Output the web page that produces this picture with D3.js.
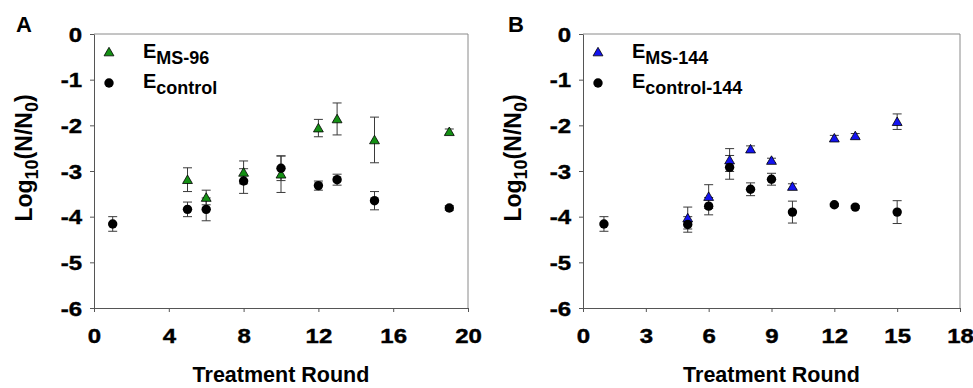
<!DOCTYPE html>
<html>
<head>
<meta charset="utf-8">
<script src="https://cdn.jsdelivr.net/npm/d3@7"></script>
<style>
  body { margin: 0; background: #fff; }
  text { font-family: "Liberation Sans", Arial, sans-serif; font-weight: bold; }
</style>
</head>
<body>
<div id="chart"></div>
<script>
// panel A data
const roundsMsA = [5, 6, 8, 10, 12, 13, 15, 19];
const msA = [-3.19, -3.58, -3.03, -3.07, -2.06, -1.86, -2.32, -2.14];
const msAErr = [0.26, 0.16, 0.25, 0.4, 0.19, 0.35, 0.5, 0.06];
const roundsCtrlA = [1, 5, 6, 8, 10, 12, 13, 15, 19];
const ctrlA = [-4.16, -3.84, -3.84, -3.22, -2.94, -3.32, -3.19, -3.65, -3.81];
const ctrlAErr = [0.16, 0.16, 0.25, 0.27, 0.27, 0.1, 0.12, 0.2, 0.05];

// panel B data
const roundsMsB = [5, 6, 7, 8, 9, 10, 12, 13, 15];
const msB = [-4.03, -3.56, -2.76, -2.52, -2.77, -3.34, -2.28, -2.23, -1.92];
const msBErr = [0.24, 0.26, 0.25, 0.07, 0.05, 0.06, 0.06, 0.05, 0.17];
const roundsCtrlB = [1, 5, 6, 7, 8, 9, 10, 12, 13, 15];
const ctrlB = [-4.16, -4.17, -3.77, -2.92, -3.4, -3.18, -3.9, -3.74, -3.79, -3.9];
const ctrlBErr = [0.16, 0.17, 0.19, 0.26, 0.14, 0.13, 0.24, 0.03, 0.03, 0.25];

const yTicks = [0, -1, -2, -3, -4, -5, -6];
const xTicksA = [0, 4, 8, 12, 16, 20];
const xTicksB = [0, 3, 6, 9, 12, 15, 18];

const svg = d3.select("#chart").append("svg")
    .attr("width", 973)
    .attr("height", 388);

function zip(xs, ys, es) {
    return xs.map((x, i) => ({ x: x, y: ys[i], e: es[i] }));
}

function drawPanel(opts) {
    const left = opts.left, top = 34, w = opts.width, h = 274;
    const g = svg.append("g").attr("transform", "translate(" + [left, top] + ")");

    const x = d3.scaleLinear().domain(opts.xDomain).range([0, w]);
    const y = d3.scaleLinear().domain([-6, 0]).range([h, 0]);

    // top and right frame lines
    g.append("line").attr("x1", 0).attr("x2", w).attr("y1", 0).attr("y2", 0)
        .attr("stroke", "#8a8a8a");
    g.append("line").attr("x1", w).attr("x2", w).attr("y1", 0).attr("y2", h)
        .attr("stroke", "#8a8a8a");

    // plain hyphen for negatives, like the original
    const fmt = d => String(d);
    const sx = 1.2; // tick labels look a bit wide in the original
    const yAxis = g.append("g")
        .call(d3.axisLeft(y).tickValues(yTicks).tickFormat(fmt)
            .tickSize(4).tickSizeOuter(0).tickPadding(8));
    const xAxis = g.append("g")
        .attr("transform", "translate(0," + h + ")")
        .call(d3.axisBottom(x).tickValues(opts.xTicks).tickFormat(fmt)
            .tickSize(4).tickSizeOuter(0).tickPadding(17));
    [yAxis, xAxis].forEach(a => {
        a.attr("font-family", null).attr("font-size", null);
        a.select(".domain").attr("stroke", "#555");
        a.selectAll(".tick line").attr("stroke", "#555");
        a.selectAll(".tick text")
            .attr("font-size", 20).attr("font-weight", "bold").attr("fill", "#000")
            .attr("stroke", "#000").attr("stroke-width", 0.4);
    });
    yAxis.selectAll(".tick text").attr("dy", "0.36em")
        .attr("x", -12 / sx).attr("transform", "scale(" + sx + ",1)");
    xAxis.selectAll(".tick text").attr("transform", "scale(" + sx + ",1)");

    // axis titles
    const yl = g.append("text")
        .attr("transform", "translate(-62," + 124 + ") rotate(-90)")
        .attr("text-anchor", "middle")
        .attr("font-size", 23);
    yl.append("tspan").text("Log");
    yl.append("tspan").attr("font-size", 18).attr("dy", 6).text("10");
    yl.append("tspan").attr("dy", -6).text("(N/N");
    yl.append("tspan").attr("font-size", 18).attr("dy", 6).text("0");
    yl.append("tspan").attr("dy", -6).text(")");

    g.append("text")
        .attr("x", w / 2).attr("y", 348)
        .attr("text-anchor", "middle")
        .attr("font-size", 21.5)
        .text("Treatment Round");

    g.append("text")
        .attr("x", opts.letterX).attr("y", -2)
        .attr("font-size", 22)
        .text(opts.letter);

    // series
    const series = [
        { data: zip(opts.msX, opts.ms, opts.msErr), shape: "tri", color: opts.color },
        { data: zip(opts.ctrlX, opts.ctrl, opts.ctrlErr), shape: "dot", color: "#000" }
    ];
    const tri = d3.symbol().type(d3.symbolTriangle).size(42);

    series.forEach(s => {
        const bars = g.append("g").attr("stroke", "#3a3a3a").attr("stroke-width", 1);
        bars.selectAll(".v").data(s.data).enter().append("line")
            .attr("x1", d => x(d.x)).attr("x2", d => x(d.x))
            .attr("y1", d => y(d.y + d.e)).attr("y2", d => y(d.y - d.e));
        bars.selectAll(".t").data(s.data).enter().append("line")
            .attr("x1", d => x(d.x) - 4.5).attr("x2", d => x(d.x) + 4.5)
            .attr("y1", d => y(d.y + d.e)).attr("y2", d => y(d.y + d.e));
        bars.selectAll(".b").data(s.data).enter().append("line")
            .attr("x1", d => x(d.x) - 4.5).attr("x2", d => x(d.x) + 4.5)
            .attr("y1", d => y(d.y - d.e)).attr("y2", d => y(d.y - d.e));
    });
    series.forEach(s => {
        if (s.shape === "tri") {
            g.append("g").selectAll("path").data(s.data).enter().append("path")
                .attr("d", tri)
                .attr("transform", d => "translate(" + [x(d.x), y(d.y) + 1] + ")")
                .attr("fill", s.color).attr("stroke", "#000").attr("stroke-width", 0.8);
        } else {
            g.append("g").selectAll("circle").data(s.data).enter().append("circle")
                .attr("cx", d => x(d.x)).attr("cy", d => y(d.y))
                .attr("r", 4.7).attr("fill", "#000");
        }
    });

    // legend
    g.append("path").attr("d", tri)
        .attr("transform", "translate(15,19)")
        .attr("fill", opts.color).attr("stroke", "#000").attr("stroke-width", 0.8);
    g.append("circle").attr("cx", 15).attr("cy", 49).attr("r", 4.7).attr("fill", "#000");

    const l1 = g.append("text").attr("x", 49).attr("y", 24).attr("font-size", 20);
    l1.append("tspan").text("E");
    l1.append("tspan").attr("dy", 6).attr("font-size", 18).text(opts.msName);
    const l2 = g.append("text").attr("x", 49).attr("y", 54).attr("font-size", 20);
    l2.append("tspan").text("E");
    l2.append("tspan").attr("dy", 6).attr("font-size", 18).text(opts.ctrlName);
}

drawPanel({
    left: 94, width: 374, xDomain: [0, 20], xTicks: xTicksA, letter: "A", letterX: -78,
    msX: roundsMsA, ms: msA, msErr: msAErr, ctrlX: roundsCtrlA, ctrl: ctrlA, ctrlErr: ctrlAErr,
    color: "#149014", msName: "MS-96", ctrlName: "control"
});
drawPanel({
    left: 583, width: 377, xDomain: [0, 18], xTicks: xTicksB, letter: "B", letterX: -75,
    msX: roundsMsB, ms: msB, msErr: msBErr, ctrlX: roundsCtrlB, ctrl: ctrlB, ctrlErr: ctrlBErr,
    color: "#1414f0", msName: "MS-144", ctrlName: "control-144"
});
</script>
</body>
</html>
